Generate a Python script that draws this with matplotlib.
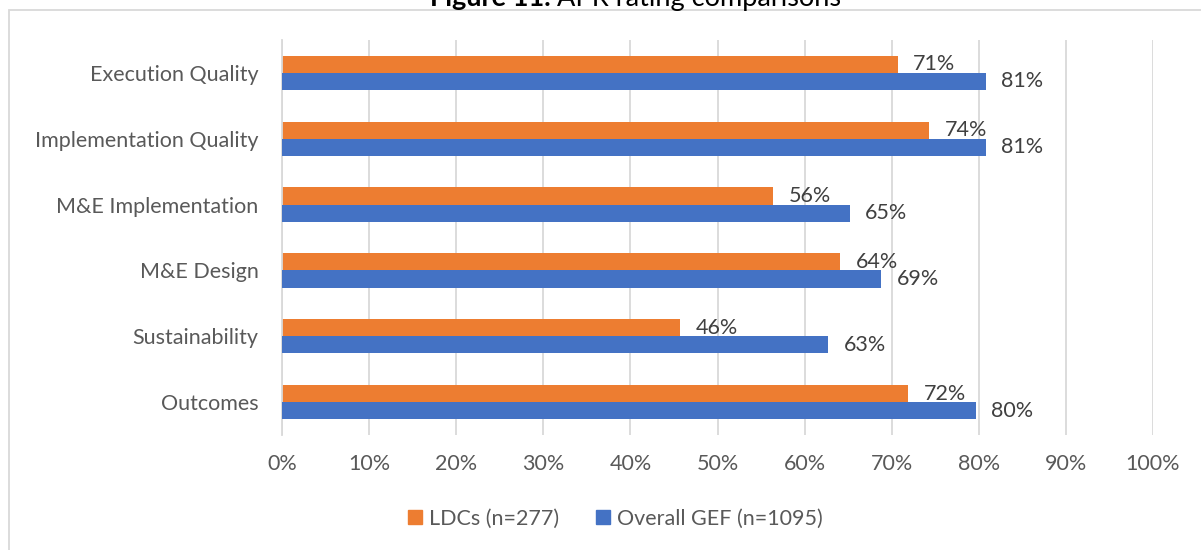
import matplotlib
matplotlib.use("Agg")
import matplotlib.pyplot as plt
from matplotlib.patches import Rectangle
from matplotlib.lines import Line2D

categories = ["Execution Quality", "Implementation Quality", "M&E Implementation",
              "M&E Design", "Sustainability", "Outcomes"]
ldc_values = [70.7, 74.3, 56.4, 64.1, 45.7, 71.9]
gef_values = [80.8, 80.8, 65.2, 68.8, 62.7, 79.7]
series_names = ["LDCs (n=277)", "Overall GEF (n=1095)"]
x_ticks = list(range(0, 101, 10))

ORANGE = "#ED7D31"
BLUE = "#4472C4"
GRID = "#D9D9D9"
TXT = "#595959"
LBL = "#404040"
FS = 15.5

plt.rcParams['font.family'] = ['Lato', 'DejaVu Sans']

W, H = 1201, 550
fig = plt.figure(figsize=(W / 100, H / 100), dpi=100)

# outer border (chart frame)
fig.add_artist(Rectangle((8.5 / W, -0.05), 1.2, 1 - 10 / H + 0.05,
                         transform=fig.transFigure, fill=False,
                         edgecolor=GRID, lw=1.3))

# title, cut off at the top edge as in the reference
t1 = fig.text(430 / W, 1 - 6 / H, "Figure 11.", ha="left", va="baseline",
              fontsize=19.5, fontweight="bold", color="black")
fig.canvas.draw()
bb = t1.get_window_extent()
fig.text((bb.x1 + 6) / W, 1 - 6 / H, "APR rating comparisons", ha="left", va="baseline",
         fontsize=19.5, color="black")

ax = fig.add_axes([282 / W, 1 - 435 / H, (1153 - 282) / W, (435 - 40) / H])

n = len(categories)
bh = 0.26
ypos = list(range(n))
ax.barh([y - bh / 2 for y in ypos], ldc_values, height=bh, color=ORANGE, zorder=2)
ax.barh([y + bh / 2 for y in ypos], gef_values, height=bh, color=BLUE, zorder=4)

for y, v in zip(ypos, ldc_values):
    ax.annotate(f"{round(v)}%", (v, y - bh / 2), xytext=(11, 0), textcoords="offset points",
                ha="left", va="center", fontsize=FS, color=LBL, zorder=3)
for y, v in zip(ypos, gef_values):
    ax.annotate(f"{round(v)}%", (v, y + bh / 2), xytext=(11, 0), textcoords="offset points",
                ha="left", va="center", fontsize=FS, color=LBL, zorder=5)

ax.set_xlim(0, 100)
ax.set_ylim(n - 0.5, -0.5)
ax.set_yticks(ypos)
ax.set_yticklabels(categories)
ax.set_xticks(x_ticks)
ax.set_xticklabels([f"{t}%" for t in x_ticks])
ax.tick_params(axis="both", length=0, labelsize=FS, colors=TXT)
ax.tick_params(axis="y", pad=17)
ax.tick_params(axis="x", pad=14)
ax.grid(axis="x", color=GRID, lw=1.3, zorder=0)
ax.set_axisbelow(True)
for s in ["top", "right", "bottom"]:
    ax.spines[s].set_visible(False)
ax.spines["left"].set_color(GRID)
ax.spines["left"].set_linewidth(1.3)

handles = [Line2D([], [], marker="s", ls="", color=ORANGE, markersize=10),
           Line2D([], [], marker="s", ls="", color=BLUE, markersize=10)]
fig.legend(handles, series_names, loc="center", bbox_to_anchor=(613 / W, 1 - 519 / H),
           ncol=2, frameon=False, fontsize=FS, labelcolor=TXT,
           handletextpad=0.1, columnspacing=1.5, handlelength=1.1)

fig.savefig("out.png", dpi=100)
